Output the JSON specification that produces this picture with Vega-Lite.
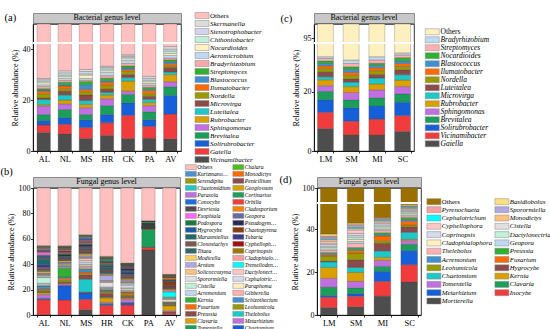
{
"$schema":"https://vega.github.io/schema/vega-lite/v6.json",
"background":"white",
"padding":{"left":0,"top":12,"right":0,"bottom":0},
"config":{
 "font":"Liberation Serif",
 "view":{"stroke":null},
 "axis":{"labelFont":"Liberation Serif","titleFont":"Liberation Serif","labelFontSize":8,"titleFontSize":8,"titleFontWeight":"normal","labelColor":"#000","titleColor":"#000","domainColor":"#000","tickColor":"#000","tickSize":2.5,"labelPadding":0.5,"grid":false,"domainWidth":0.8,"tickWidth":0.8,"titlePadding":3,"labelOverlap":false},
 "legend":{"layout":{"right":{"anchor":"middle"}},"labelFont":"Liberation Serif","labelColor":"#000","symbolStrokeColor":"#888","symbolStrokeWidth":0.5,"symbolOpacity":1,"padding":0,"symbolLimit":60},
 "title":{"font":"Liberation Serif","fontWeight":"normal","fontSize":10.5,"anchor":"start","frame":"bounds","color":"#000"}
},
"datasets":{
 "bac7":[
  {"g":"Vicinamibacter","AL":7.3,"NL":6.7,"MS":4.9,"HR":6.1,"CK":4.9,"PA":5.0,"AV":4.8},
  {"g":"Gaiella","AL":2.9,"NL":3.8,"MS":4.3,"HR":5.0,"CK":9.1,"PA":4.7,"AV":9.7},
  {"g":"Solirubrobacter","AL":1.8,"NL":2.5,"MS":3.1,"HR":3.2,"CK":4.9,"PA":2.6,"AV":7.3},
  {"g":"Brevitalea","AL":2.3,"NL":3.3,"MS":2.0,"HR":3.5,"CK":3.3,"PA":3.1,"AV":3.4},
  {"g":"Sphingomonas","AL":3.3,"NL":2.2,"MS":2.7,"HR":2.7,"CK":1.3,"PA":2.4,"AV":2.0},
  {"g":"Rubrobacter","AL":0.6,"NL":1.5,"MS":1.3,"HR":1.5,"CK":4.0,"PA":1.2,"AV":2.8},
  {"g":"Luteitalea","AL":2.0,"NL":2.0,"MS":1.5,"HR":1.0,"CK":1.3,"PA":1.3,"AV":1.0},
  {"g":"Microvirga","AL":0.6,"NL":1.5,"MS":2.2,"HR":1.3,"CK":1.2,"PA":1.2,"AV":1.8},
  {"g":"Nordella","AL":1.7,"NL":1.0,"MS":1.3,"HR":1.5,"CK":1.3,"PA":1.0,"AV":0.7},
  {"g":"Ilumatobacter","AL":1.0,"NL":1.0,"MS":0.9,"HR":1.2,"CK":0.7,"PA":1.2,"AV":0.8},
  {"g":"Blastococcus","AL":0.4,"NL":0.5,"MS":1.8,"HR":0.6,"CK":0.6,"PA":0.5,"AV":0.7},
  {"g":"Streptomyces","AL":0.6,"NL":1.0,"MS":1.3,"HR":1.0,"CK":0.8,"PA":0.8,"AV":0.8},
  {"g":"Bradyrhizobium","AL":0.8,"NL":0.7,"MS":0.5,"HR":1.0,"CK":1.0,"PA":0.8,"AV":0.7},
  {"g":"Aeromicrobium","AL":0.7,"NL":0.8,"MS":0.7,"HR":1.2,"CK":1.1,"PA":0.7,"AV":1.0},
  {"g":"Nocardioides","AL":0.8,"NL":0.7,"MS":1.3,"HR":0.7,"CK":0.7,"PA":0.7,"AV":0.8},
  {"g":"Chthoniobacter","AL":0.6,"NL":0.6,"MS":0.5,"HR":0.7,"CK":0.6,"PA":0.6,"AV":0.9},
  {"g":"Stenotrophobacter","AL":0.6,"NL":0.9,"MS":0.9,"HR":0.6,"CK":0.5,"PA":0.7,"AV":0.8},
  {"g":"Skermanella","AL":0.5,"NL":0.8,"MS":0.8,"HR":0.5,"CK":0.5,"PA":0.8,"AV":1.0},
  {"g":"Others","AL":71.5,"NL":68.5,"MS":68.0,"HR":66.7,"CK":62.2,"PA":70.7,"AV":59.0}
 ],
 "fun7":[
  {"g":"Inocybe","AL":0.3,"NL":0.2,"MS":4.2,"HR":0.3,"CK":0.3,"PA":51.2,"AV":0.3},
  {"g":"Mortierella","AL":11.8,"NL":11.6,"MS":8.1,"HR":7.2,"CK":7.6,"PA":2.1,"AV":1.5},
  {"g":"Chaetomium","AL":0.6,"NL":11.2,"MS":5.0,"HR":1.0,"CK":1.5,"PA":0.1,"AV":0.3},
  {"g":"Tomentella","AL":0.4,"NL":0.3,"MS":0.3,"HR":0.5,"CK":0.5,"PA":14.0,"AV":0.2},
  {"g":"Metarhizium","AL":3.0,"NL":1.3,"MS":0.3,"HR":1.0,"CK":2.5,"PA":0.1,"AV":1.0},
  {"g":"Clavaria","AL":1.5,"NL":0.5,"MS":0.3,"HR":3.5,"CK":1.0,"PA":0.4,"AV":4.0},
  {"g":"Thelebolus","AL":0.3,"NL":0.3,"MS":10.0,"HR":0.5,"CK":0.4,"PA":0.1,"AV":0.3},
  {"g":"Preussia","AL":0.8,"NL":0.8,"MS":3.5,"HR":3.0,"CK":1.0,"PA":0.3,"AV":0.6},
  {"g":"Leohumicola","AL":1.2,"NL":1.5,"MS":1.0,"HR":1.0,"CK":1.0,"PA":0.3,"AV":0.6},
  {"g":"Fusarium","AL":0.6,"NL":1.3,"MS":1.2,"HR":0.6,"CK":1.5,"PA":0.05,"AV":0.4},
  {"g":"Schizothecium","AL":2.0,"NL":1.0,"MS":2.0,"HR":0.6,"CK":0.6,"PA":0.05,"AV":0.3},
  {"g":"Kernia","AL":0.3,"NL":6.8,"MS":0.6,"HR":0.5,"CK":0.5,"PA":0.05,"AV":0.4},
  {"g":"Gibberella","AL":0.5,"NL":0.4,"MS":1.3,"HR":0.4,"CK":0.8,"PA":0.05,"AV":0.3},
  {"g":"Acremonium","AL":1.2,"NL":0.6,"MS":0.6,"HR":0.6,"CK":0.6,"PA":0.05,"AV":0.3},
  {"g":"Paraphoma","AL":0.5,"NL":0.4,"MS":1.0,"HR":0.4,"CK":1.0,"PA":0.05,"AV":1.5},
  {"g":"Cistella","AL":4.5,"NL":0.3,"MS":0.6,"HR":0.4,"CK":0.6,"PA":0.05,"AV":0.3},
  {"g":"Cephalotrichum","AL":0.5,"NL":0.4,"MS":1.6,"HR":0.6,"CK":2.0,"PA":0.05,"AV":0.8},
  {"g":"Sporormiella","AL":0.8,"NL":0.6,"MS":1.3,"HR":3.5,"CK":1.0,"PA":0.05,"AV":0.3},
  {"g":"Dactylonectria","AL":0.4,"NL":0.4,"MS":1.5,"HR":0.6,"CK":0.8,"PA":0.05,"AV":0.3},
  {"g":"Solicoccozyma","AL":0.6,"NL":0.8,"MS":0.6,"HR":0.6,"CK":0.6,"PA":0.05,"AV":0.5},
  {"g":"Tremellodendropsis","AL":0.3,"NL":0.3,"MS":0.3,"HR":0.3,"CK":0.3,"PA":0.05,"AV":4.0},
  {"g":"Arnium","AL":0.6,"NL":0.5,"MS":1.0,"HR":4.0,"CK":0.8,"PA":0.05,"AV":0.3},
  {"g":"Cladophialophora","AL":0.4,"NL":0.3,"MS":0.5,"HR":0.5,"CK":0.6,"PA":0.05,"AV":1.2},
  {"g":"Modicella","AL":1.0,"NL":0.8,"MS":1.0,"HR":0.5,"CK":0.6,"PA":0.05,"AV":0.3},
  {"g":"Coprinopsis","AL":0.8,"NL":0.5,"MS":0.8,"HR":0.6,"CK":0.8,"PA":0.4,"AV":0.8},
  {"g":"Titaea","AL":1.0,"NL":0.4,"MS":0.6,"HR":1.5,"CK":0.8,"PA":0.1,"AV":0.3},
  {"g":"Cyphellophora","AL":0.6,"NL":0.4,"MS":1.0,"HR":0.4,"CK":0.6,"PA":0.1,"AV":0.8},
  {"g":"Clonostachys","AL":1.0,"NL":0.6,"MS":0.8,"HR":1.0,"CK":1.5,"PA":0.3,"AV":0.6},
  {"g":"Tubaria","AL":2.4,"NL":0.5,"MS":0.8,"HR":0.5,"CK":1.3,"PA":0.4,"AV":0.4},
  {"g":"Marasmiellus","AL":4.0,"NL":0.5,"MS":0.6,"HR":1.5,"CK":0.8,"PA":0.1,"AV":0.3},
  {"g":"Chaetopyrena","AL":0.6,"NL":0.4,"MS":1.0,"HR":0.4,"CK":0.5,"PA":0.1,"AV":3.0},
  {"g":"Hygrocybe","AL":1.0,"NL":0.6,"MS":0.8,"HR":0.4,"CK":1.0,"PA":0.1,"AV":0.5},
  {"g":"Pseudogymnoascus","AL":0.6,"NL":1.0,"MS":1.0,"HR":0.5,"CK":0.8,"PA":0.6,"AV":0.6},
  {"g":"Podospora","AL":0.5,"NL":0.5,"MS":0.5,"HR":1.0,"CK":0.4,"PA":0.2,"AV":0.3},
  {"g":"Geopora","AL":0.8,"NL":0.4,"MS":0.4,"HR":0.4,"CK":0.3,"PA":0.2,"AV":0.3},
  {"g":"Exophiala","AL":1.7,"NL":0.3,"MS":0.3,"HR":0.3,"CK":0.2,"PA":0.1,"AV":0.2},
  {"g":"Cladosporium","AL":0.6,"NL":0.6,"MS":0.6,"HR":0.4,"CK":0.3,"PA":0.1,"AV":1.2},
  {"g":"Devriesia","AL":0.5,"NL":1.2,"MS":1.0,"HR":0.8,"CK":1.1,"PA":0.2,"AV":0.3},
  {"g":"Orbilia","AL":0.4,"NL":1.2,"MS":0.8,"HR":0.4,"CK":0.3,"PA":0.1,"AV":0.2},
  {"g":"Conocybe","AL":0.6,"NL":0.3,"MS":1.0,"HR":0.3,"CK":0.3,"PA":0.1,"AV":0.2},
  {"g":"Cortinarius","AL":0.3,"NL":0.3,"MS":0.4,"HR":1.2,"CK":0.2,"PA":1.2,"AV":0.2},
  {"g":"Parasola","AL":0.8,"NL":0.3,"MS":0.4,"HR":0.3,"CK":0.2,"PA":0.05,"AV":0.2},
  {"g":"Geoglossum","AL":0.4,"NL":0.3,"MS":0.4,"HR":0.3,"CK":0.2,"PA":0.05,"AV":0.3},
  {"g":"Chaetomidium","AL":0.3,"NL":0.2,"MS":0.6,"HR":0.3,"CK":0.2,"PA":0.05,"AV":0.2},
  {"g":"Penicillium","AL":0.3,"NL":0.4,"MS":0.4,"HR":0.3,"CK":0.2,"PA":0.05,"AV":0.3},
  {"g":"Serendipita","AL":0.5,"NL":0.2,"MS":0.3,"HR":0.2,"CK":0.2,"PA":0.05,"AV":0.2},
  {"g":"Monodictys","AL":0.3,"NL":0.3,"MS":0.3,"HR":0.3,"CK":0.2,"PA":0.05,"AV":0.2},
  {"g":"Kurtzmanomyces","AL":0.3,"NL":0.2,"MS":0.3,"HR":0.2,"CK":0.2,"PA":0.05,"AV":0.2},
  {"g":"Chalara","AL":0.2,"NL":0.3,"MS":0.3,"HR":0.6,"CK":0.2,"PA":0.05,"AV":0.2},
  {"g":"Others","AL":45.4,"NL":45.5,"MS":36.8,"HR":53.8,"CK":59.1,"PA":25.9,"AV":68.0}
 ],
 "bac4":[
  {"g":"Gaiella","LM":7.6,"SM":5.4,"MI":5.4,"SC":6.6},
  {"g":"Vicinamibacter","LM":5.5,"SM":4.7,"MI":5.4,"SC":5.4},
  {"g":"Solirubrobacter","LM":4.2,"SM":4.5,"MI":4.4,"SC":4.5},
  {"g":"Brevitalea","LM":2.9,"SM":2.7,"MI":2.8,"SC":2.8},
  {"g":"Sphingomonas","LM":1.9,"SM":2.5,"MI":2.7,"SC":2.5},
  {"g":"Rubrobacter","LM":2.0,"SM":2.0,"MI":2.0,"SC":2.2},
  {"g":"Microvirga","LM":1.0,"SM":1.5,"MI":2.0,"SC":1.8},
  {"g":"Luteitalea","LM":1.6,"SM":1.1,"MI":1.2,"SC":1.7},
  {"g":"Nordella","LM":1.2,"SM":1.2,"MI":1.3,"SC":1.1},
  {"g":"Ilumatobacter","LM":0.9,"SM":1.0,"MI":1.0,"SC":1.0},
  {"g":"Blastococcus","LM":0.8,"SM":1.0,"MI":0.8,"SC":0.9},
  {"g":"Nocardioides","LM":0.9,"SM":0.9,"MI":0.7,"SC":1.1},
  {"g":"Streptomyces","LM":0.8,"SM":1.1,"MI":1.1,"SC":0.9},
  {"g":"Bradyrhizobium","LM":0.6,"SM":1.2,"MI":1.1,"SC":0.7},
  {"g":"Others","LM":68.1,"SM":69.2,"MI":68.1,"SC":66.8}
 ],
 "fun4":[
  {"g":"Mortierella","LM":3.5,"SM":3.9,"MI":8.8,"SC":15.4},
  {"g":"Inocybe","LM":4.8,"SM":4.9,"MI":6.9,"SC":8.1},
  {"g":"Metarhizium","LM":0.8,"SM":1.2,"MI":4.7,"SC":6.6},
  {"g":"Clavaria","LM":3.9,"SM":2.7,"MI":2.3,"SC":2.9},
  {"g":"Tomentella","LM":4.1,"SM":3.0,"MI":2.8,"SC":1.7},
  {"g":"Kernia","LM":5.1,"SM":4.2,"MI":1.4,"SC":0.6},
  {"g":"Chaetomium","LM":2.6,"SM":2.3,"MI":3.0,"SC":3.3},
  {"g":"Hygrocybe","LM":0.5,"SM":3.6,"MI":3.6,"SC":2.6},
  {"g":"Leohumicola","LM":2.2,"SM":3.1,"MI":1.2,"SC":0.8},
  {"g":"Fusarium","LM":0.6,"SM":1.2,"MI":2.2,"SC":1.8},
  {"g":"Acremonium","LM":0.6,"SM":0.6,"MI":0.6,"SC":0.8},
  {"g":"Preussia","LM":0.5,"SM":0.8,"MI":0.9,"SC":0.9},
  {"g":"Thelebolus","LM":0.9,"SM":2.0,"MI":1.0,"SC":0.8},
  {"g":"Geopora","LM":0.8,"SM":0.9,"MI":0.7,"SC":0.5},
  {"g":"Cladophialophora","LM":0.6,"SM":0.9,"MI":0.6,"SC":0.6},
  {"g":"Dactylonectria","LM":0.6,"SM":1.0,"MI":0.8,"SC":0.6},
  {"g":"Coprinopsis","LM":0.8,"SM":0.9,"MI":0.6,"SC":0.5},
  {"g":"Cistella","LM":0.6,"SM":0.9,"MI":0.6,"SC":0.4},
  {"g":"Cyphellophora","LM":0.9,"SM":1.6,"MI":0.7,"SC":0.5},
  {"g":"Monodictys","LM":0.8,"SM":0.7,"MI":0.6,"SC":0.4},
  {"g":"Cephalotrichum","LM":0.4,"SM":0.5,"MI":0.4,"SC":0.5},
  {"g":"Sporormiella","LM":0.7,"SM":0.9,"MI":0.5,"SC":0.3},
  {"g":"Pyrenochaeta","LM":0.6,"SM":0.6,"MI":0.3,"SC":0.3},
  {"g":"Basidiobolus","LM":0.9,"SM":0.5,"MI":0.3,"SC":0.5},
  {"g":"Others","LM":62.2,"SM":57.1,"MI":54.5,"SC":48.6}
 ]
},
"spacing":0,
"resolve":{"scale":{"color":"independent"}},
"vconcat":[
 {"spacing":18,"resolve":{"scale":{"color":"independent"}},"hconcat":[
  {
   "title":{"text":"(a)","dx":-6,"offset":-11,"baseline":"top"},
   "data":{"name":"bac7"},
   "transform":[{"fold":["AL","NL","MS","HR","CK","PA","AV"],"as":["s","v"]},{"window":[{"op":"row_number","as":"k"}]}],
   "bounds":"flush","spacing":1,
   "vconcat":[
    {"data":{"values":[{"t":"Bacterial genus level"}]},"width":148,"height":10,"view":{"fill":"#c8c8c8","stroke":"#8c8c8c"},"mark":{"type":"text","fontSize":8,"font":"Liberation Serif","color":"#000"},"encoding":{"text":{"field":"t"}}},
    {"width":148,"height":127,"view":{"stroke":"#000","strokeWidth":0.8},"layer":[
     {"mark":{"type":"bar","stroke":"#3a3a3a","strokeWidth":0.25},
      "encoding":{
       "x":{"field":"s","type":"nominal","sort":["AL","NL","MS","HR","CK","PA","AV"],"scale":{"paddingInner":0.365,"paddingOuter":0.19},"axis":{"title":null,"labelAngle":0,"labelFontSize":8.5,"tickBand":"extent","tickSize":2,"labelPadding":1}},
       "y":{"field":"v","type":"quantitative","stack":"zero","scale":{"domain":[0,42,92,100],"range":[127,20,18,0],"nice":false,"zero":false},"axis":{"values":[0,5,10,15,20,25,30,35,40,95,100],"labelOverlap":false,"title":"Relative abundance (%)"}},
       "color":{"field":"g","type":"nominal","scale":{"domain":["Others","Skermanella","Stenotrophobacter","Chthoniobacter","Nocardioides","Aeromicrobium","Bradyrhizobium","Streptomyces","Blastococcus","Ilumatobacter","Nordella","Microvirga","Luteitalea","Rubrobacter","Sphingomonas","Brevitalea","Solirubrobacter","Gaiella","Vicinamibacter"],"range":["#ffc0c0","#dcdcdc","#d4d4ec","#c0f0d8","#fff0c0","#c0d8f0","#f8a8a8","#30b030","#4090d0","#ff6a00","#999900","#8b4b4b","#1cc8c8","#d9a000","#c070e0","#1a9e5a","#1560d8","#f03c3c","#4d4d4d"]},
         "legend":{"title":null,"symbolType":"M-1,-2H8.33V2H-1Z","symbolSize":9,"labelFontSize":7,"labelOffset":10,"rowPadding":-1.15,"offset":11,"labelLimit":90,"labelFontStyle":{"expr":"datum.value === 'Others' ? 'normal' : 'italic'"}}},
       "order":{"field":"k","type":"quantitative"}}},
     {"data":{"values":[{}]},"mark":{"type":"rect","color":"white"},"encoding":{"y":{"datum":42,"type":"quantitative"},"y2":{"datum":92}}}
    ]}
   ]
  },
  {
   "title":{"text":"(c)","dx":-11,"offset":-12,"baseline":"top"},
   "data":{"name":"bac4"},
   "transform":[{"fold":["LM","SM","MI","SC"],"as":["s","v"]},{"window":[{"op":"row_number","as":"k"}]}],
   "bounds":"flush","spacing":1,
   "vconcat":[
    {"data":{"values":[{"t":"Bacterial genus level"}]},"width":100,"height":10,"view":{"fill":"#c8c8c8","stroke":"#8c8c8c"},"mark":{"type":"text","fontSize":8,"font":"Liberation Serif","color":"#000"},"encoding":{"text":{"field":"t"}}},
    {"width":100,"height":127,"view":{"stroke":"#000","strokeWidth":0.8},"layer":[
     {"mark":{"type":"bar","stroke":"#3a3a3a","strokeWidth":0.25},
      "encoding":{
       "x":{"field":"s","type":"nominal","sort":["LM","SM","MI","SC"],"scale":{"paddingInner":0.38,"paddingOuter":0.135},"axis":{"title":null,"labelAngle":0,"labelFontSize":8.5,"tickBand":"extent","tickSize":2,"labelPadding":1}},
       "y":{"field":"v","type":"quantitative","stack":"zero","scale":{"domain":[0,36.2,93.6,100],"range":[127,20,18,0],"nice":false,"zero":false},"axis":{"values":[0,5,10,15,20,25,30,35,95,100],"labelOverlap":false,"title":"Relative abundance (%)"}},
       "color":{"field":"g","type":"nominal","scale":{"domain":["Others","Bradyrhizobium","Streptomyces","Nocardioides","Blastococcus","Ilumatobacter","Nordella","Luteitalea","Microvirga","Rubrobacter","Sphingomonas","Brevitalea","Solirubrobacter","Vicinamibacter","Gaiella"],"range":["#fff0c0","#c0d8f0","#ffb0b0","#30b030","#4090d0","#ff6a00","#999900","#8b4b4b","#1cc8c8","#d9a000","#c070e0","#1a9e5a","#1560d8","#f03c3c","#4d4d4d"]},
         "legend":{"title":null,"symbolType":"M-1,-2H8.33V2H-1Z","symbolSize":9,"labelFontSize":7.5,"labelOffset":10,"rowPadding":-1.0,"offset":8,"labelLimit":90,"labelFontStyle":{"expr":"datum.value === 'Others' ? 'normal' : 'italic'"}}},
       "order":{"field":"k","type":"quantitative"}}},
     {"data":{"values":[{}]},"mark":{"type":"rect","color":"white"},"encoding":{"y":{"datum":36.2,"type":"quantitative"},"y2":{"datum":93.6}}}
    ]}
   ]
  }
 ]},
 {"spacing":0,"resolve":{"scale":{"color":"independent"}},"hconcat":[
  {
   "title":{"text":"(b)","dx":-6,"offset":-13,"baseline":"top"},
   "data":{"name":"fun7"},
   "transform":[{"fold":["AL","NL","MS","HR","CK","PA","AV"],"as":["s","v"]},{"window":[{"op":"row_number","as":"k"}]}],
   "bounds":"flush","spacing":1,
   "vconcat":[
    {"data":{"values":[{"t":"Fungal genus level"}]},"width":147,"height":10,"view":{"fill":"#c8c8c8","stroke":"#8c8c8c"},"mark":{"type":"text","fontSize":8,"font":"Liberation Serif","color":"#000"},"encoding":{"text":{"field":"t"}}},
    {"width":147,"height":127,"view":{"stroke":"#000","strokeWidth":0.8},
     "mark":{"type":"bar","clip":true,"stroke":"#3a3a3a","strokeWidth":0.25},
     "encoding":{
      "x":{"field":"s","type":"nominal","sort":["AL","NL","MS","HR","CK","PA","AV"],"scale":{"paddingInner":0.365,"paddingOuter":0.19},"axis":{"title":null,"labelAngle":0,"labelFontSize":8.5,"tickBand":"extent","tickSize":2,"labelPadding":1}},
      "y":{"field":"v","type":"quantitative","stack":"zero","scale":{"domain":[0,100],"nice":false},"axis":{"values":[0,20,40,60,80,100],"labelOverlap":false,"title":"Relative abundance (%)"}},
      "color":{"field":"g","type":"nominal","scale":{"domain":["Others","Kurtzmanomyces","Serendipita","Chaetomidium","Parasola","Conocybe","Devriesia","Exophiala","Podospora","Hygrocybe","Marasmiellus","Clonostachys","Titaea","Modicella","Arnium","Solicoccozyma","Sporormiella","Cistella","Acremonium","Kernia","Fusarium","Preussia","Clavaria","Tomentella","Mortierella","Chalara","Monodictys","Penicillium","Geoglossum","Cortinarius","Orbilia","Cladosporium","Geopora","Pseudogymnoascus","Chaetopyrena","Tubaria","Cyphellophora","Coprinopsis","Cladophialophora","Tremellodendropsis","Dactylonectria","Cephalotrichum","Paraphoma","Gibberella","Schizothecium","Leohumicola","Thelebolus","Metarhizium","Chaetomium","Inocybe"],"range":["#ffc0c0","#4a90d0","#999900","#1cc8c8","#c070e0","#1a6ee0","#4d4d4d","#ff66ff","#1a7a3a","#1a5aa0","#1a6a6a","#7a5a4a","#306868","#ffd060","#b0a8e0","#ffc080","#e0e0e0","#c0f0d8","#c0d8f0","#30b030","#ff6a00","#8b4b4b","#d9a000","#1a9e5a","#f03c3c","#48c018","#ff6a00","#8b4b4b","#d9a000","#1a9e5a","#f03c3c","#ff8000","#6a6aa0","#2a2a5a","#8b3a10","#3a3a90","#a01010","#a07800","#f8a0a0","#00ffff","#ffc8c8","#d8d8ee","#fff0c0","#ffb0b0","#4090d0","#999900","#1cc8c8","#c070e0","#1560d8","#4d4d4d"]},
        "legend":{"title":null,"columns":2,"columnPadding":0.5,"symbolType":"M-2.5,-2.5H8.5V2.5H-2.5Z","symbolSize":4,"labelFontSize":5.7,"labelOffset":6.5,"rowPadding":-3.2,"offset":3.5,"labelLimit":34,"symbolLimit":60,"labelFontStyle":{"expr":"datum.value === 'Others' ? 'normal' : 'italic'"}}},
      "order":{"field":"k","type":"quantitative"}}}
   ]
  },
  {
   "title":{"text":"(d)","dx":-11,"offset":-8.5,"baseline":"top"},
   "data":{"name":"fun4"},
   "transform":[{"fold":["LM","SM","MI","SC"],"as":["s","v"]},{"window":[{"op":"row_number","as":"k"}]}],
   "bounds":"flush","spacing":1,
   "vconcat":[
    {"data":{"values":[{"t":"Fungal genus level"}]},"width":104,"height":10,"view":{"fill":"#c8c8c8","stroke":"#8c8c8c"},"mark":{"type":"text","fontSize":8,"font":"Liberation Serif","color":"#000"},"encoding":{"text":{"field":"t"}}},
    {"width":104,"height":127,"view":{"stroke":"#000","strokeWidth":0.8},"layer":[
     {"mark":{"type":"bar","stroke":"#3a3a3a","strokeWidth":0.25},
      "encoding":{
       "x":{"field":"s","type":"nominal","sort":["LM","SM","MI","SC"],"scale":{"paddingInner":0.38,"paddingOuter":0.13},"axis":{"title":null,"labelAngle":0,"labelFontSize":8.5,"tickBand":"extent","tickSize":2,"labelPadding":1}},
       "y":{"field":"v","type":"quantitative","stack":"zero","scale":{"domain":[0,51.8,92.2,100],"range":[127,16,14,0],"nice":false,"zero":false},"axis":{"values":[0,5,10,15,20,25,30,35,40,45,50,95,100],"labelOverlap":false,"title":"Relative abundance (%)"}},
       "color":{"field":"g","type":"nominal","scale":{"domain":["Others","Pyrenochaeta","Cephalotrichum","Cyphellophora","Coprinopsis","Cladophialophora","Thelebolus","Acremonium","Leohumicola","Chaetomium","Tomentella","Metarhizium","Mortierella","Basidiobolus","Sporormiella","Monodictys","Cistella","Dactylonectria","Geopora","Preussia","Fusarium","Hygrocybe","Kernia","Clavaria","Inocybe"],"range":["#9c7000","#f8a0a0","#00ffff","#ffc8c8","#d8d8ee","#fff0c0","#ffb0b0","#4090d0","#999900","#1cc8c8","#c070e0","#1560d8","#4d4d4d","#ffe080","#b0a8e0","#ffc080","#e0e0e0","#c0f0d8","#c0d8f0","#30b030","#ff6a00","#8b4b4b","#d9a000","#1a9e5a","#f03c3c"]},
         "legend":{"title":null,"columns":2,"columnPadding":0,"symbolType":"M-1,-2H8.33V2H-1Z","symbolSize":9,"labelFontSize":6.8,"labelOffset":10,"rowPadding":-0.7,"offset":3,"labelLimit":58,"labelFontStyle":{"expr":"datum.value === 'Others' ? 'normal' : 'italic'"}}},
       "order":{"field":"k","type":"quantitative"}}},
     {"data":{"values":[{}]},"mark":{"type":"rect","color":"white"},"encoding":{"y":{"datum":51.8,"type":"quantitative"},"y2":{"datum":92.2}}}
    ]}
   ]
  }
 ]}
]
}
